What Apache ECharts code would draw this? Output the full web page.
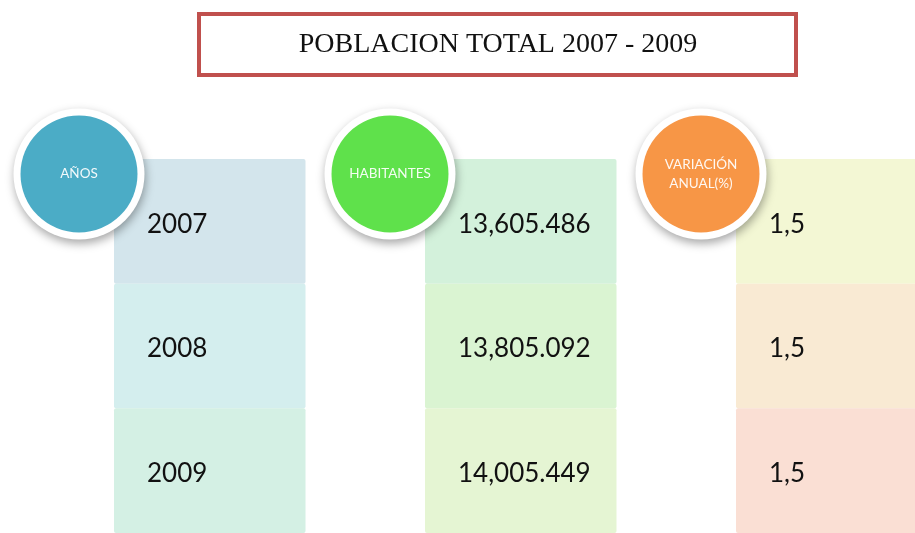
<!DOCTYPE html>
<html>
<head>
<meta charset="utf-8">
<script src="https://cdn.jsdelivr.net/npm/echarts@6/dist/echarts.min.js"></script>
<style>html,body{margin:0;padding:0;background:#fff}#c{width:915px;height:533px}</style>
</head>
<body>
<div id="c"></div>
<script>
// ---- data ----
var titleText = 'POBLACION TOTAL 2007 - 2009';
var headers = ['AÑOS', 'HABITANTES', 'VARIACIÓN\nANUAL(%)'];
var years = ['2007', '2008', '2009'];
var habitantes = ['13,605.486', '13,805.092', '14,005.449'];
var variacion = ['1,5', '1,5', '1,5'];

// ---- styles ----
var headerColors = ['#4bacc6', '#5fe14b', '#f79646'];
var cellColors = [
  ['#d3e5ec', '#d4eeee', '#d4f0e4'],
  ['#d3f1db', '#daf4d2', '#e5f5d3'],
  ['#f3f7d4', '#f9ead3', '#fadfd4']
];

var columns = [years, habitantes, variacion];
var cellData = [];
columns.forEach(function (col, c) {
  col.forEach(function (v, r) { cellData.push([c, r, v]); });
});
var headerData = headers.map(function (h, c) { return { value: [c, 0], name: h, itemStyle: { color: headerColors[c] } }; });
var ringData = headers.map(function (h, c) { return [c, 0]; });

var chart = echarts.init(document.getElementById('c'));
chart.setOption({
  animation: false,
  grid: { left: 114, top: 159, width: 622, height: 375 },
  xAxis: { type: 'value', min: 0, max: 2, show: false },
  yAxis: { type: 'value', min: 0, max: 3, inverse: true, show: false },
  graphic: [
    { type: 'rect', shape: { x: 199, y: 14, width: 597, height: 61 },
      style: { fill: '#fff', stroke: '#c0504d', lineWidth: 4 } },
    { type: 'text', x: 498, y: 45,
      style: { text: titleText, font: '28px "Liberation Serif", serif', fill: '#111',
        textAlign: 'center', textVerticalAlign: 'middle' } }
  ],
  series: [
    {
      type: 'custom',
      data: cellData,
      clip: false,
      renderItem: function (params, api) {
        var c = api.value(0), r = api.value(1);
        var p = api.coord([c, r]);
        var h = api.size([0, 1])[1];
        return {
          type: 'group',
          children: [
            { type: 'rect', shape: { x: p[0], y: p[1], width: 191.5, height: h, r: 2 },
              style: { fill: cellColors[c][r] } },
            { type: 'text', x: p[0] + 33, y: p[1] + h / 2 + 3,
              style: { text: columns[c][r], font: '26px Lato, sans-serif', fill: '#111',
                textVerticalAlign: 'middle' } }
          ]
        };
      }
    },
    {
      type: 'scatter',
      clip: false,
      z: 4,
      data: ringData,
      symbol: 'circle',
      symbolSize: 131,
      symbolOffset: [-35, 15],
      itemStyle: { color: '#ffffff', shadowBlur: 10,
        shadowColor: 'rgba(0,0,0,0.35)', shadowOffsetX: 1, shadowOffsetY: 4, opacity: 1 },
      emphasis: { disabled: true }
    },
    {
      type: 'scatter',
      clip: false,
      z: 5,
      data: headerData,
      symbol: 'circle',
      symbolSize: 117,
      symbolOffset: [-35, 15],
      itemStyle: { opacity: 1 },
      label: { show: true, position: 'inside', formatter: function (p) { return p.name; },
        color: 'rgba(255,255,255,0.93)', fontFamily: 'Lato', fontSize: 13.5, lineHeight: 19, align: 'center' },
      emphasis: { disabled: true }
    }
  ]
});
</script>
</body>
</html>
